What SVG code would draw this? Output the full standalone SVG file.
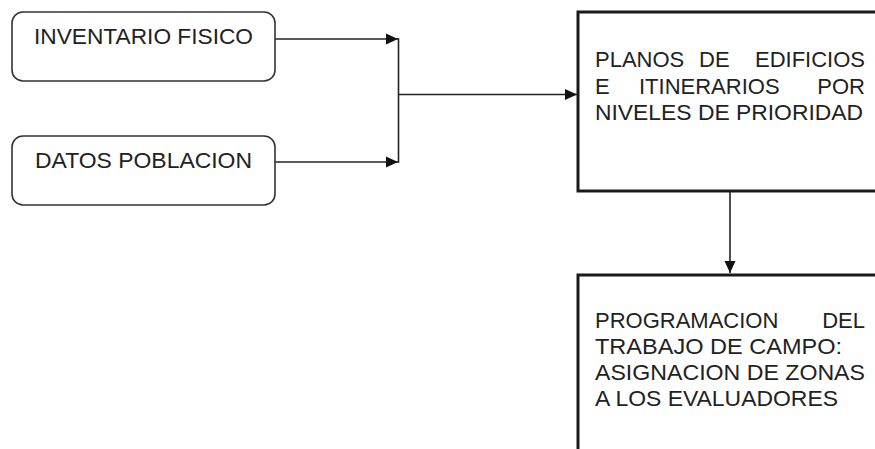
<svg xmlns="http://www.w3.org/2000/svg" width="875" height="449" viewBox="0 0 875 449">
<defs>
<style>
.rbox{fill:#fff;stroke:#333;stroke-width:1.6}
.sbox{fill:#fff;stroke:#1a1a1a;stroke-width:3}
.t{font-family:"Liberation Sans",Arial,Helvetica,sans-serif;fill:#222}
.t1{font-size:22px}
.t2{font-size:22px}
.c{fill:none;stroke:#222;stroke-width:1.6}
</style>
<marker id="ah" markerUnits="userSpaceOnUse" markerWidth="13" markerHeight="12" refX="12" refY="6" orient="auto">
<path d="M0,0.5 L12,6 L0,11.5 z" fill="#111"/>
</marker>
</defs>
<rect width="875" height="449" fill="#fff"/>
<g id="connectors">
<path class="c" d="M275,39 H398" marker-end="url(#ah)"/>
<path class="c" d="M275,162 H398" marker-end="url(#ah)"/>
<path class="c" d="M398.5,38.2 V162.8"/>
<path class="c" d="M398.5,94.5 H577" marker-end="url(#ah)"/>
<path class="c" d="M730,192 V273" marker-end="url(#ah)"/>
</g>
<g id="inventario">
<rect class="rbox" x="12" y="12" width="263" height="69" rx="11"/>
<text class="t t1" x="34" y="43.5" textLength="219" lengthAdjust="spacingAndGlyphs">INVENTARIO FISICO</text>
</g>
<g id="datos">
<rect class="rbox" x="12" y="136" width="263" height="69" rx="11"/>
<text class="t t1" x="35" y="168" textLength="217" lengthAdjust="spacingAndGlyphs">DATOS POBLACION</text>
</g>
<g id="planos">
<rect class="sbox" x="578" y="12" width="310" height="179"/>
<text class="t t2" y="66.5"><tspan x="595">PLANOS</tspan><tspan x="699">DE</tspan><tspan x="865" text-anchor="end">EDIFICIOS</tspan></text>
<text class="t t2" y="93.5"><tspan x="595">E</tspan><tspan x="639">ITINERARIOS</tspan><tspan x="865" text-anchor="end">POR</tspan></text>
<text class="t t2" y="120" textLength="268" lengthAdjust="spacingAndGlyphs" x="595">NIVELES DE PRIORIDAD</text>
</g>
<g id="programacion">
<rect class="sbox" x="578" y="275" width="310" height="200"/>
<text class="t t2" y="328"><tspan x="595">PROGRAMACION</tspan><tspan x="865" text-anchor="end">DEL</tspan></text>
<text class="t t2" x="595" y="354" textLength="247" lengthAdjust="spacingAndGlyphs">TRABAJO DE CAMPO:</text>
<text class="t t2" x="595" y="380" textLength="270" lengthAdjust="spacingAndGlyphs">ASIGNACION DE ZONAS</text>
<text class="t t2" x="595" y="406" textLength="243" lengthAdjust="spacingAndGlyphs">A LOS EVALUADORES</text>
</g>
</svg>
